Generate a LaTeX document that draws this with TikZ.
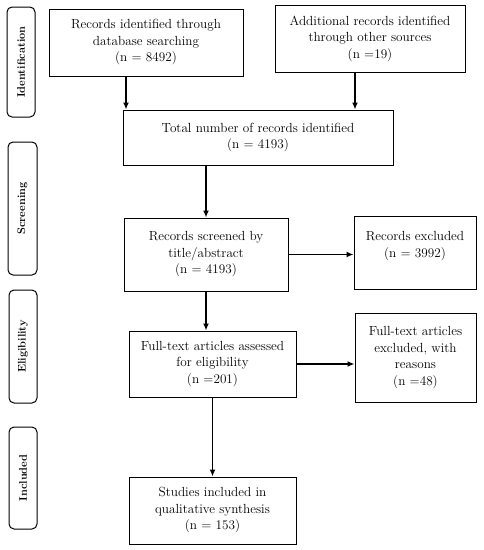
\documentclass[tikz,border=0pt]{standalone}
\usetikzlibrary{arrows.meta}
\begin{document}
\begin{tikzpicture}[x=1pt,y=1pt,
  box/.style={draw, line width=1pt, align=center, inner sep=2pt,
    font=\fontsize{13.2}{16.5}\selectfont},
  side/.style={draw, line width=1pt, rounded corners=5pt, rotate=90,
    minimum height=28pt, inner sep=0pt, font=\fontsize{11}{13}\selectfont\bfseries},
  arr/.style={-{Latex[length=7pt,width=6pt]}, line width=1.4pt}]
\useasboundingbox (0,0) rectangle (484,-550);
% side labels
\node[side, minimum width=110pt] (L1) at (21,-62) {Identification};
\node[side, minimum width=133pt, minimum height=29pt] (L2) at (22.5,-208.5) {Screening};
\node[side, minimum width=113pt] (L3) at (23,-346.5) {Eligibility};
\node[side, minimum width=102pt] (L4) at (23,-478) {Included};
% boxes
\node[box, minimum width=194pt, minimum height=67pt] (b1) at (146,-42.5)
  {Records identified through\\database searching\\(n = 8492)};
\node[box, minimum width=190pt, minimum height=67pt] (b2) at (370,-38.5)
  {Additional records identified\\through other sources\\(n =19)};
\node[box, minimum width=270pt, minimum height=55pt] (b3) at (258,-137.5)
  {Total number of records identified\\(n = 4193)};
\node[box, minimum width=164pt, minimum height=73pt] (b4) at (206,-254.5)
  {Records screened by\\title/abstract\\(n = 4193)};
\node[box, minimum width=122pt, minimum height=73pt] (b5) at (415,-252.5)
  {Records excluded\\(n = 3992)\\\mbox{}};
\node[box, minimum width=167pt, minimum height=66pt] (b6) at (212.5,-364)
  {Full-text articles assessed\\for eligibility\\(n =201)};
\node[box, minimum width=121pt, minimum height=89pt] (b7) at (415.5,-357.5)
  {Full-text articles\\excluded, with\\reasons\\(n =48)};
\node[box, minimum width=167pt, minimum height=67pt] (b8) at (212.5,-510.5)
  {Studies included in\\qualitative synthesis\\(n = 153)};
% arrows
\coordinate (x1) at (126,0);
\coordinate (x2) at (355,0);
\draw[arr] (b1.south -| x1) -- (b3.north -| x1);
\draw[arr] (b2.south -| x2) -- (b3.north -| x2);
\draw[arr] (b4.north |- b3.south) -- (b4.north);
\draw[arr] (b4.east) -- (b4.east -| b5.west);
\draw[arr] (b4.south) -- (b4.south |- b6.north);
\draw[arr] (b6.east) -- (b6.east -| b7.west);
\draw[arr] (b6.south) -- (b8.north);
\end{tikzpicture}
\end{document}
